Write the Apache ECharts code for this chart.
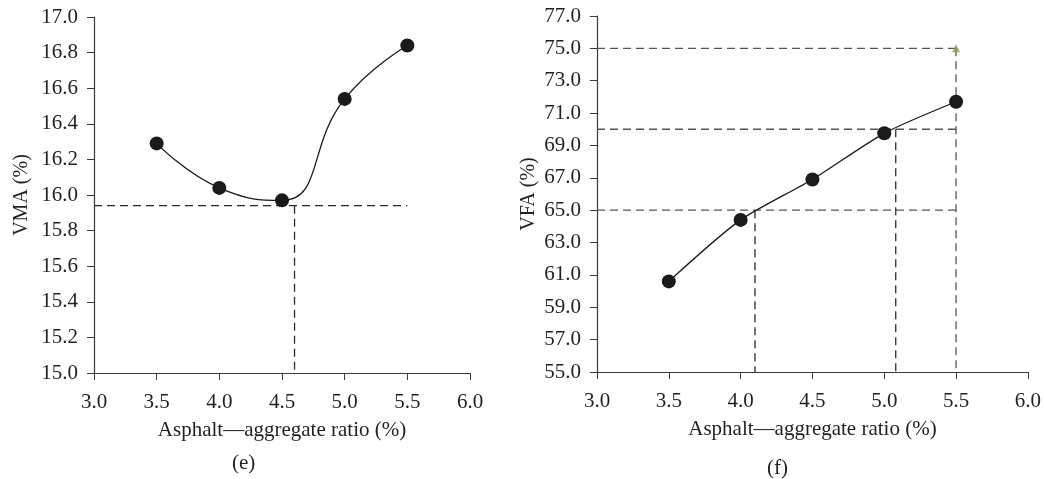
<!DOCTYPE html>
<html><head><meta charset="utf-8">
<script src="https://cdn.jsdelivr.net/npm/echarts@6/dist/echarts.min.js"></script>
<style>html,body{margin:0;padding:0;background:#fff}#c{width:1044px;height:479px}</style>
</head><body><div id="c"></div>
<script>
const xTicksMin = 3.0, xTicksMax = 6.0, xInterval = 0.5;
const ratio = [3.5, 4.0, 4.5, 5.0, 5.5];
const vma = [16.29, 16.04, 15.97, 16.54, 16.84];
const vfa = [60.6, 64.4, 66.9, 69.75, 71.7];
const vmaLevel = 15.94, vmaRatio = 4.6;
const vfaLevels = [65.0, 70.0, 75.0];
const vfaRatios = [4.1, 5.08, 5.5];
const vfaTop = 75.0;

const FONT = '"Liberation Serif","DejaVu Serif",serif';
const chart = echarts.init(document.getElementById('c'));

function xAxis(gi){
  return {type:'value', gridIndex:gi, min:xTicksMin, max:xTicksMax, interval:xInterval,
    name:'Asphalt\u2014aggregate ratio (%)', nameLocation:'middle', nameGap:47,
    nameTextStyle:{fontFamily:FONT,fontSize:21,color:'#231f20'},
    axisLine:{lineStyle:{color:'#3a3a3a',width:1.2}},
    axisTick:{show:true,length:7,lineStyle:{color:'#3a3a3a'}},
    axisLabel:{fontFamily:FONT,fontSize:21,color:'#231f20',margin:19,formatter:v=>v.toFixed(1)},
    splitLine:{show:false}};
}
function yAxis(gi,min,max,interval,name,gap){
  return {type:'value', gridIndex:gi, min:min, max:max, interval:interval,
    name:name, nameLocation:'middle', nameGap:gap,
    nameTextStyle:{fontFamily:FONT,fontSize:20,color:'#231f20'},
    axisLine:{show:true,lineStyle:{color:'#3a3a3a',width:1.2}},
    axisTick:{show:true,length:7,lineStyle:{color:'#3a3a3a'}},
    axisLabel:{fontFamily:FONT,fontSize:21,color:'#231f20',margin:16,formatter:v=>v.toFixed(1)},
    splitLine:{show:false}};
}
function dash(xi,yi,pts,color){
  return {type:'line', xAxisIndex:xi, yAxisIndex:yi, data:pts, symbol:'none', silent:true,
    lineStyle:{color:color,width:1.3,type:[8,5]}, z:1, animation:false};
}

const series = [
  {type:'line', xAxisIndex:0, yAxisIndex:0, data:ratio.map((x,i)=>[x,vma[i]]), smooth:0.5,
   symbol:'circle', symbolSize:14, itemStyle:{color:'#1b1a1a'}, lineStyle:{color:'#1b1a1a',width:1.3}, z:3, animation:false},
  dash(0,0,[[xTicksMin,vmaLevel],[5.5,vmaLevel]],'#2a2a2a'),
  dash(0,0,[[vmaRatio,vmaLevel],[vmaRatio,15.0]],'#2a2a2a'),
  {type:'line', xAxisIndex:1, yAxisIndex:1, data:ratio.map((x,i)=>[x,vfa[i]]), smooth:0.25,
   symbol:'circle', symbolSize:14, itemStyle:{color:'#1b1a1a'}, lineStyle:{color:'#1b1a1a',width:1.3}, z:3, animation:false}
];
vfaLevels.forEach(l=>series.push(dash(1,1,[[xTicksMin,l],[5.5,l]],'#555555')));
vfaRatios.forEach((r,i)=>series.push(dash(1,1,[[r,vfaLevels[i]],[r,55.0]], i===2?'#555555':'#2a2a2a')));
series.push({type:'scatter', xAxisIndex:1, yAxisIndex:1, data:[[5.5,vfaTop]], symbol:'triangle', symbolSize:8,
  itemStyle:{color:'#7ba23f'}, z:4, animation:false});

chart.setOption({
  animation:false,
  grid:[{left:94,top:17,width:376,height:356},{left:597,top:16,width:432,height:356}],
  xAxis:[xAxis(0),xAxis(1)],
  yAxis:[yAxis(0,15.0,17.0,0.2,'VMA (%)',62),yAxis(1,55.0,77.0,2,'VFA (%)',58)],
  series:series,
  graphic:[
    {type:'text',left:232,top:453,style:{text:'(e)',font:'21px '+FONT,fill:'#231f20'}},
    {type:'text',left:767,top:458,style:{text:'(f)',font:'21px '+FONT,fill:'#231f20'}}
  ]
});
</script></body></html>
